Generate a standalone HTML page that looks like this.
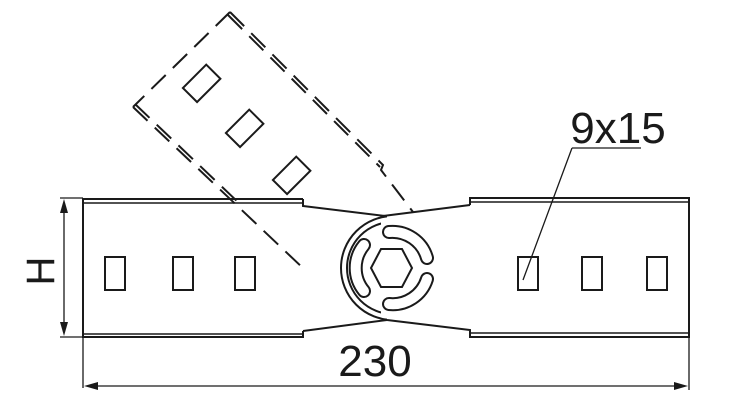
<!DOCTYPE html>
<html><head><style>html,body{margin:0;padding:0;background:#fff}svg{display:block}</style></head>
<body>
<svg width="746" height="405" viewBox="0 0 746 405" xmlns="http://www.w3.org/2000/svg" fill="none" stroke="#1a1a1a" stroke-width="2">
<defs>
<clipPath id="c1"><rect x="300" y="200" width="87" height="140"/></clipPath>
<clipPath id="c2"><rect x="300" y="200" width="81" height="140"/></clipPath>
</defs>
<!-- left body -->
<path d="M303,199 H83 V337 H303 V331"/>
<path d="M303,199 V206 L385,216" />
<line x1="84" y1="203" x2="302" y2="203" stroke-width="1.5"/>
<line x1="84" y1="334" x2="302" y2="334" stroke-width="1.5"/>
<path d="M303,331 L387,320"/>
<!-- right body -->
<path d="M470,205 V198 H689 V337 H470 V330 L387,320"/>
<path d="M470,205 L383,216"/>
<line x1="471" y1="202" x2="688" y2="202" stroke-width="1.5"/>
<line x1="471" y1="333" x2="688" y2="333" stroke-width="1.5"/>
<!-- slots -->
<rect x="105" y="257" width="20" height="33"/><rect x="173" y="257" width="20" height="33"/><rect x="235" y="257" width="20" height="33"/>
<rect x="518" y="257" width="20" height="33"/><rect x="582" y="257" width="20" height="33"/><rect x="647" y="257" width="20" height="33"/>
<!-- pivot -->
<circle cx="393" cy="268" r="52" clip-path="url(#c1)"/>
<circle cx="393" cy="268" r="46" clip-path="url(#c2)"/>
<polygon points="371,268 381,249 402,249 412,268 402,287 381,287"/>
<g stroke-linecap="round">
<g stroke="#1a1a1a" stroke-width="14">
<path d="M389,232 A36,36 0 0 1 427,258"/>
<path d="M427,279 A36,36 0 0 1 389,304"/>
<path d="M364,245 A36,36 0 0 0 364,291"/>
</g>
<g stroke="#fff" stroke-width="10">
<path d="M389,232 A36,36 0 0 1 427,258"/>
<path d="M427,279 A36,36 0 0 1 389,304"/>
<path d="M364,245 A36,36 0 0 0 364,291"/>
</g>
</g>
<!-- dashed rotated plate -->
<g stroke-dasharray="20,10">
<path d="M230,12 L133,107"/>
<path d="M230,12 L383,165 L381,170 L413,212"/>
<path d="M228,15 L380,167"/>
<path d="M133,107 L305,270"/>
<path d="M135,104 L240,204"/>
</g>
<rect x="192" y="67" width="20" height="33" transform="rotate(45 202 83)"/>
<rect x="235" y="112" width="20" height="33" transform="rotate(45 245 128)"/>
<rect x="282" y="159" width="20" height="33" transform="rotate(45 292 175)"/>
<!-- dimensions -->
<g stroke-width="1.3">
<line x1="60" y1="198" x2="83" y2="198"/><line x1="60" y1="337" x2="83" y2="337"/>
<line x1="64" y1="205" x2="64" y2="330"/>
<line x1="83" y1="337" x2="83" y2="388"/><line x1="689" y1="337" x2="689" y2="390"/>
<line x1="90" y1="386" x2="682" y2="386"/>
<path d="M572,148 H641 M572,148 L523,280"/>
</g>
<g fill="#1a1a1a" stroke="none">
<polygon points="64,199 60,213 68,213"/><polygon points="64,336 60,322 68,322"/>
<polygon points="84,386 98,382 98,390"/><polygon points="688,386 674,382 674,390"/>
<text x="375" y="376" font-family="Liberation Sans, sans-serif" font-size="44" text-anchor="middle">230</text>
<text x="618" y="143" font-family="Liberation Sans, sans-serif" font-size="44" text-anchor="middle">9x15</text>
<text x="0" y="0" font-family="Liberation Sans, sans-serif" font-size="40" text-anchor="middle" transform="translate(54,271) rotate(-90)">H</text>
</g>
</svg>
</body></html>
